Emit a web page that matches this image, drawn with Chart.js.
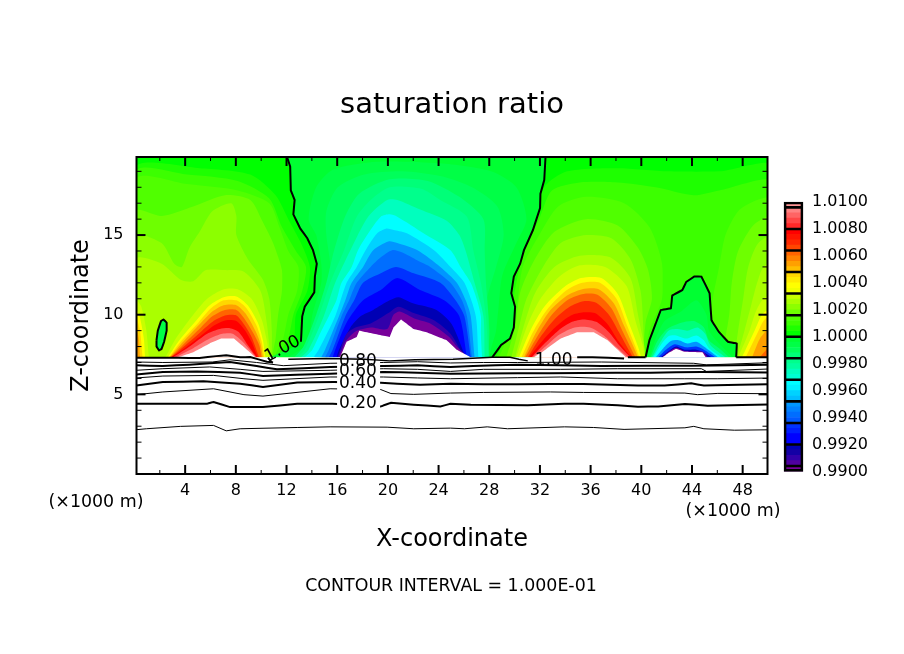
<!DOCTYPE html>
<html><head><meta charset="utf-8">
<style>html,body{margin:0;padding:0;background:#fff}#wrap{position:relative;width:904px;height:654px}canvas{position:absolute}</style>
<script src="https://cdn.jsdelivr.net/npm/chart.js@4"></script></head>
<body><div id="wrap"><canvas id="main" width="904" height="654" style="left:0;top:0"></canvas><canvas id="bar" width="134" height="310" style="left:770px;top:180px"></canvas></div>
<script>
// ---------- axis / colour bar values ----------
const xTicks=[4,8,12,16,20,24,28,32,36,40,44,48];
const xMinorTicks=[2,6,10,14,18,22,26,30,34,38,42,46];
const zTicks=[5,10,15];
const zMinorTicks=[1,2,3,4,6,7,8,9,11,12,13,14,16,17,18,19];
const barStart=0.99, barStep=0.0004;
const barColours=['#78009a','#5000a0','#3200aa','#1400a5','#0000b4','#0000ff','#0000ff','#001eff','#0032ff','#005aff','#006eff','#0082ff','#0096ff','#00beff','#00d2ff','#00f0ff','#00ffff','#00ffd2','#00ffbe','#00ffa0','#00ff8c','#00ff78','#00ff5a','#00ff46','#00ff32','#00ff00','#1eff00','#3cff00','#50ff00','#6eff00','#8cff00','#aaff00','#c8ff00','#f0ff00','#ffff00','#ffeb00','#ffd700','#ffbe00','#ffa000','#ff8200','#ff6400','#ff4600','#ff2800','#ff1400','#ff0000','#ff2828','#ff4646','#ff6464','#ff8282','#ff9696'];
const barSeparators=[1,5,9,13,17,21,25,29,33,37,41,45,49];
const xStart=0.16,xEnd=49.96,zEnd=19.9,xShift=0.14,baseZ=7.33;

// ---------- level curves: flat x,z lists ----------
const fullField=[0,20,50.5,20];
const broadL26=[0,19.3,5,19.2,9,18.8,11,17.5,12,16,13,14.5,13.7,13,13.5,11.5,12.6,10,12.4,8.3,11.2,7.33];
const broadL27=[0,19,4,18.8,8,18.4,10.5,17.3,11.5,15.5,12.6,14,13.4,13,13.1,11.5,12.4,10,12,8.5,11.2,7.33];
const broadL28=[0,18.5,4,18.2,8,17.8,10.5,17,11.3,15.5,12,14,12.8,13,12.7,11.5,12,10,11.6,8.5,11,7.33];
const broadL29=[0,16.5,2,16.2,4.5,16.8,7,17.5,9,17.2,10,15.8,10.8,14.5,11.5,12.8,11.5,11.5,11.2,10,11,8.5,10.8,7.33];
const broadL30=[0,14.9,2,14.5,3,13.2,3.6,13,4.2,14.2,5,15.2,6,16.5,7.5,17,7.9,16.2,7.9,15,8.8,13.5,10,12.2,10.5,11,10.7,9,10.7,7.33];
const broadL31=[0,13.5,2,13.2,3.5,12.2,4.5,12.1,5.5,12.8,7,12.8,8.5,12.7,9.8,11.5,10.3,9.5,10.6,7.33];
const broadR26=[28.2,7.33,29.3,8.5,29.6,11.3,30.4,13.8,31.3,15.5,32.2,18,34,19,38,19.2,42,19,46,19,50.5,19.3,50.5,7.33];
const broadR27=[28.4,7.33,29.3,9,30,12,30.6,14,31.8,16,32.8,17.8,35,18.3,38,18.3,41,18,44,17.5,46,17.8,50.5,18.3,50.5,7.33];
const cornerL32=[0,10.9,0.4,10.5,0.8,9,1,7.33];
const cornerL34=[0,10.3,0.3,9.8,0.6,8.5,0.7,7.33];
const cornerL36=[0,9.8,0.3,9,0.5,7.33];
const cornerL38=[0,9.2,0.2,8.5,0.3,7.33];
const lobeA32=[2.3,7.33,3.2,8.6,4.5,10,5.6,11,6.9,11.6,8,11.6,9.1,11,9.9,9.7,10.3,8.4,10.5,7.33];
const lobeA34=[2.5,7.33,3.4,8.4,4.8,9.7,5.8,10.6,6.9,11.1,7.9,11.15,8.8,10.6,9.6,9.5,10,8.4,10.2,7.33];
const lobeA36=[2.6,7.33,3.5,8.3,4.9,9.5,5.9,10.4,6.9,10.9,7.9,10.9,8.7,10.4,9.5,9.3,9.9,8.3,10.1,7.33];
const lobeA38=[2.65,7.33,3.7,8.3,5,9.4,6,10.2,6.9,10.6,7.9,10.6,8.6,10.1,9.4,9,9.8,8.2,10,7.33];
const lobeA40=[2.7,7.33,3.8,8.2,5.1,9.2,6,9.9,7,10.3,7.9,10.3,8.5,9.8,9.2,8.9,9.7,8.1,9.9,7.33];
const lobeA42=[2.75,7.33,3.9,8.1,5.2,9,6.1,9.6,7,9.95,7.9,9.95,8.5,9.4,9.1,8.6,9.7,7.33];
const lobeA44=[2.8,7.33,4,8,5.3,8.8,6.2,9.35,7.1,9.65,7.9,9.6,8.6,9,9.1,8.3,9.6,7.33];
const lobeA46=[2.9,7.33,4.3,8.05,5.6,8.8,6.6,9.1,7.4,9.15,8.1,8.9,8.8,8.1,9.5,7.33];
const lobeA48=[3.1,7.33,4.5,7.9,5.8,8.5,6.8,8.8,7.6,8.8,8.4,8.3,9.45,7.33];
const lobeB28=[28.6,7.33,29,8,30,10.5,30.5,13,31.8,15,33.3,16.8,35.5,17.4,38.5,17,40.5,15.5,41.5,13.2,41.5,11,40.5,9,40.2,7.33];
const lobeB29=[29.2,7.33,29.9,9.2,30.3,11.4,31.4,13.4,33,15.2,35.5,16,38,15.6,39.6,14.2,40.4,12.8,40.7,11,40.2,9.5,40.1,7.33];
const lobeB30=[29.6,7.33,30.2,9.2,30.8,11,32.1,13,33.5,14.5,35.5,15,37.5,14.8,39,13.5,39.8,11.5,40,9.5,40.1,7.33];
const lobeB31=[29.9,7.33,30.7,9.6,31.5,11.4,33,13,35,13.7,37.4,13.6,39,12.3,39.6,10,40.1,8,40.2,7.33];
const lobeB32=[30,7.33,30.9,9.4,31.9,11,33.4,12.4,35,13.1,37,13,38.7,11.8,39.4,9.6,40,8,40.1,7.33];
const lobeB34=[30.2,7.33,31.1,9,32.2,10.5,33.8,11.75,35.1,12.3,36.7,12.3,38,11.3,38.9,9.45,39.6,8,39.85,7.33];
const lobeB36=[30.4,7.33,31.3,8.9,32.4,10.3,33.9,11.5,35.2,12,36.6,12,37.9,11,38.7,9.4,39.4,8,39.7,7.33];
const lobeB38=[30.6,7.33,31.5,8.8,32.6,10.2,34,11.2,35.2,11.6,36.5,11.6,37.7,10.7,38.5,9.3,39.3,7.9,39.6,7.33];
const lobeB40=[30.7,7.33,31.7,8.7,32.8,10,34.1,10.95,35.3,11.3,36.4,11.25,37.5,10.4,38.3,9.1,39.1,7.8,39.4,7.33];
const lobeB42=[30.9,7.33,31.9,8.6,33,9.7,34.2,10.5,35.3,10.85,36.3,10.75,37.3,10,38.1,8.9,38.9,7.75,39.2,7.33];
const lobeB44=[31,7.33,32.1,8.4,33.2,9.3,34.3,9.95,35.3,10.15,36.2,10.1,37.2,9.4,38,8.4,38.8,7.6,39.1,7.33];
const lobeB46=[31.2,7.33,32.3,8.25,33.3,9,34.4,9.55,35.3,9.7,36.3,9.55,37.3,8.9,38.1,8.1,39,7.33];
const lobeB48=[31.3,7.33,32.3,8,33.4,8.75,34.6,9.2,35.8,9.2,36.9,8.7,37.9,7.95,38.8,7.33];
const edgeR28=[45,7.33,45.5,11,46,13,46.5,15,47.5,16.5,49,17.2,50.5,17.3,50.5,7.33];
const edgeR29=[46.2,7.33,46.8,10,47,12,47.5,14,48.8,15.7,50.5,16.2,50.5,7.33];
const edgeR30=[47.2,7.33,47.5,9,47.9,11,48.3,13,49.1,14.5,50.5,15,50.5,7.33];
const edgeR31=[47.4,7.33,48,9,48.5,10.5,49,12,49.5,13,50.5,13.4,50.5,7.33];
const edgeR32=[47.5,7.33,48.4,9,48.9,10.2,49.5,11,50.5,11.3,50.5,7.33];
const edgeR34=[47.8,7.33,48.8,9,49.5,10.1,50.5,10.4,50.5,7.33];
const edgeR36=[48.1,7.33,49,8.8,49.6,9.7,50.5,10,50.5,7.33];
const edgeR38=[48.6,7.33,49.3,8.6,50.5,9.5,50.5,7.33];
const edgeR40=[49.2,7.33,50.5,8.4,50.5,7.33];
// 1.00 contour pieces
const contourLeft=[13,8.3,13.1,9.9,13.3,10.5,14.05,11.4,14.1,12.4,14.25,13.2,13.95,14.05,13.5,14.8,12.95,15.4,12.4,16.3,12.5,17.2,12.2,17.8,12.15,19.3,11.9,19.9];
const contourRight=[32.3,19.9,32.2,18.45,31.9,17.6,31.87,16.7,31.3,15.3,30.6,14.05,30.3,13.2,29.8,12.4,29.6,11.35,29.9,10.5,29.8,9.2,29.5,8.5,28.8,8.1,28.1,7.33];
const contourSmall=[40.2,7.33,40.5,8.4,41,9.45,41.4,10.3,42.2,10.4,42.3,11.2,43.1,11.55,43.4,12.05,44.05,12.4,44.6,12.4,45.25,11.35,45.4,9.65,46,8.9,46.7,8.3,47.4,8.2,47.35,7.33];
const contourOval=[1.6,8.4,1.7,9,1.95,9.6,2.15,9.7,2.4,9.5,2.4,9,2.2,8.3,2,7.85,1.8,7.75,1.6,8,1.6,8.4];
const coldFoot=[10.55,7.33,11.3,7.6];
const ovalTail=[2.44,8.4];
const cold23=[12,7.33,13.5,8.2,13.9,10,14.6,12,14.6,13.2,14.2,15,13.6,16,14.2,18,15.5,19.1,19,19.6,24,19.5,28,19,30,18,30.8,16,30,14.5,28.9,12.5,28.6,10.5,28.4,9,28,7.33];
const cold22=[12.6,7.33,14,8.4,14.6,10,15.2,11.8,15.3,13.2,15,15,15,16.5,15.9,18,18,18.8,21,19,24,18.7,26.5,18,28.5,16.8,29,15,28.4,13,27.7,11,27.9,9,27.9,7.33];
const cold21=[12.5,7.33,13.2,8,14.2,10,15,12,15.6,14,16.5,16.2,17.6,17.6,20,18.5,23,18.4,25.5,17.4,27.4,16,27.5,14,27.6,12,27.8,9.9,27.85,7.33];
const cold20=[12.7,7.33,13.3,7.8,14.4,9.9,15.3,12,16.4,14.05,17.4,16.15,18.5,17.2,20,18,22.5,17.9,24,17.2,26.1,16.15,26.6,14.05,27.2,12,27.6,9.9,27.8,7.33];
const cold18=[13,7.33,13.6,7.8,14.8,9.9,15.7,12,16.9,14.05,18.3,16.15,19.8,17.2,20.6,17.2,22.4,16.6,24.5,15.9,25.5,15,26,14,26.7,12,27.4,9.9,27.5,7.33];
const cold16=[13.3,7.33,13.9,7.8,14.5,8.8,15.2,9.9,15.8,10.9,16.2,12,17,13,17.5,14.05,18.3,15.1,19.3,16.15,20,16.3,20.6,16.15,22.7,15.1,24.8,14.05,25.6,13,26.4,12,26.9,10.9,27.2,9.9,27.2,8.8,27.3,7.33];
const cold14=[14,7.33,14.4,7.8,15.7,9.9,16.6,12,17.4,13,18.1,14.05,19,15.1,19.7,15.4,20.4,15.3,21.4,15.1,23.5,14.05,24.8,13,25.9,12,26.8,9.9,27,7.33];
const cold12=[14.6,7.33,14.9,7.8,16,9.9,16.5,10.9,17,12,17.9,13,18.7,14.05,19.9,14.6,20.6,14.5,22.2,14.05,24,13,25.3,12,26,10.9,26.4,9.9,26.7,7.33];
const cold10=[14.9,7.33,15.2,7.8,16.2,9.9,16.8,10.9,17.4,12,18.5,13,19.3,13.6,20.2,14.05,21,13.9,22.2,13.4,23.2,13,24.8,12,25.7,10.9,26.1,9.9,26.5,7.33];
const cold8=[15.2,7.33,15.5,7.8,16.5,9.9,17.2,10.9,17.9,12,19.3,12.6,20.5,13,21.9,12.6,24,12,25.2,10.9,25.9,9.9,26.4,7.33];
const cold6=[15.5,7.33,15.7,7.8,16.6,9.5,17.9,10.9,19.3,11.55,20.6,12.3,22.4,11.55,24.3,10.9,25.5,9.9,26.1,7.33];
const cold4=[15.8,7.33,16,7.8,16.9,9.2,17.7,9.9,18.7,10.3,20,10.9,20.7,11.1,21.9,10.7,23.7,10.3,24.9,9.4,26,7.33];
const cold2=[15.9,7.33,16.1,7.8,16.6,8.8,17.3,9.2,18.5,9.45,19.9,10.1,20.7,10.5,21.9,10.1,23.5,9.65,24.8,8.8,25.9,7.33];
const cold0=[16,7.33,16.5,8.3,17.3,8.95,18.5,9.2,19.8,9.1,20.3,10,20.8,10.2,22,9.75,23.2,9.45,24.7,8.6,25.3,8,26.2,7.33];
const small23=[40.5,7.33,41,8.5,41.7,9.6,43,10.2,44.2,10.9,45,10,45.2,9,46,8.2,47.1,7.33];
const small21=[40.6,7.33,41.1,8.3,41.9,9.1,43,9.5,44,9.6,44.8,9.2,45.2,8.4,46,7.9,46.8,7.33];
const small18=[40.7,7.33,41.3,8.2,42,9,42.7,9.1,43.5,9,44.3,9.2,44.9,8.8,45.3,8.1,46.5,7.33];
const small16=[40.8,7.33,41.4,8.1,42,8.65,42.6,8.7,43.4,8.5,44.2,8.7,44.8,8.4,45.2,7.9,46.2,7.33];
const small12=[41,7.33,41.6,7.9,42.2,8.35,42.8,8.4,43.5,8.2,44.2,8.3,44.8,8,45.9,7.33];
const small8=[41.2,7.33,41.8,7.8,42.5,8.15,43.4,7.95,44.2,8,44.8,7.8,45.7,7.33];
const small4=[41.4,7.33,42,7.7,42.6,8,43.3,7.8,44.2,7.8,44.9,7.6,45.4,7.33];
const small0=[41.5,7.33,42,7.65,42.6,7.93,43.3,7.72,44.7,7.68,45.1,7.33];
const terrainA=[3.3,7.33,4.5,7.65,5.8,8.2,6.7,8.5,7.7,8.5,8.45,8,9.4,7.33];
const terrainB=[16.1,7.33,16.6,8.3,17.4,8.6,17.6,9,18.5,8.85,20,8.6,20.3,9.2,20.9,9.7,21.9,9.1,22.9,8.9,24.5,8.4,25.3,7.8,26.4,7.33];
const terrainC=[31.4,7.33,32.3,7.8,33.5,8.5,34.8,8.9,36.1,8.9,37.2,8.4,38,7.8,38.65,7.33];
const terrainD=[41.55,7.33,42,7.6,42.6,7.87,43.3,7.67,44.7,7.63,44.95,7.33];
const groundLine=[0,7.33,50.5,7.33];
// lower contour lines
const line010=[0,2.78,0.8,2.84,3.5,2.99,6.1,3.05,7.1,2.71,8.2,2.84,12.7,2.92,15.3,2.96,19.8,2.94,21.9,2.84,24.8,2.88,25.9,2.84,27.7,2.96,29.3,2.84,33.8,2.96,36.1,2.92,38.5,2.8,43.3,2.9,44,2.99,44.8,2.84,47.2,2.75,50.5,2.78];
const line020=[0,4.41,3.4,4.41,5.6,4.41,6.1,4.52,7.4,4.2,10,4.2,12.7,4.41,15.5,4.41,19.3,4.24,20.1,4.47,21.9,4.35,24,4.24,24.8,4.41,26.4,4.35,30.9,4.31,33.8,4.41,35.3,4.41,38,4.31,39.6,4.22,41.2,4.24,43.3,4.39,45.1,4.29,50.5,4.37];
const line030=[0,4.98,2.1,5.15,6.1,5.35,8.5,4.98,10,4.89,15.3,5.35,19.3,5.3,20.1,5.05,21.9,5,24.8,5.08,27.4,5.12,32.7,5.15,35.3,5.12,39.6,5.1,43.3,5.08,44.3,4.98,45.9,5.06,50.5,5.04];
const line040=[0,5.56,2.1,5.77,5.3,5.82,8.2,5.67,10,5.46,12.7,5.75,15.6,5.77,19.3,5.73,20.6,5.67,22.4,5.61,24.8,5.67,27.4,5.63,32.7,5.65,35.3,5.65,39.6,5.56,41.7,5.56,43.8,5.69,44.8,5.56,50.5,5.65];
const line050=[0,6.03,2.1,6.15,6.1,6.19,8.5,5.98,10,5.88,15.3,6.09,19.5,6.09,22.2,6.03,24.8,5.98,30.1,6.05,33.5,6.09,38,5.98,43.3,5.98,45.9,5.98,50.5,6.03];
const line060=[0,6.24,2.1,6.4,4.8,6.44,8.2,6.36,10,6.15,15.3,6.3,19.5,6.4,22.2,6.36,24.8,6.3,30.1,6.32,35.1,6.34,40.6,6.36,44.6,6.4,50.5,6.36];
const line070=[0,6.51,2.1,6.61,5.8,6.72,8.2,6.57,10,6.44,15.3,6.51,19.5,6.61,22.2,6.57,24.8,6.44,27.4,6.57,33.5,6.57,38,6.61,44.6,6.61,45,6.44,50.5,6.61];
const line080=[0,6.82,2.1,6.78,4.2,6.86,7.4,7.03,9.5,6.78,11.1,6.57,15.3,6.72,19.5,6.78,22.2,6.82,24.8,6.72,26.6,6.78,30.1,6.86,36.7,6.78,43.8,6.8,50.5,6.86];
const line090=[0,7.03,2.1,7,6,7.03,7.4,7.17,9.5,7,11.6,6.8,15.3,6.95,19.5,7,22.2,7.05,24.8,6.97,27.4,7,30.1,7,36.7,7.03,44,6.95,45,6.85,50.5,7];
const base100a=[0,7.3,3.3,7.3,5,7.28,6.3,7.4,7.1,7.46,8.2,7.33,9,7.34,10.3,7.05,10.8,7];
const base100b=[12,7.2,15,7.25,18,7.2,20,7.1,22,7.17,25,7.2,28.1,7.33,29.5,7.33,30.2,7.2,30.9,7.1];
const base100c=[34.8,7.33,36,7.33,38.5,7.25];
const base100d=[38.8,7.33,40.2,7.33];
const base100e=[47.35,7.33,50.5,7.33];
const base100f=[10.4,7.3,10.7,7];

// contour labels: text, x, z, rotation in degrees
const labelTexts=['0.20','0.40','0.60','0.80','1.00','1.00'];
const labelX=[17.5,17.5,17.5,17.5,11.55,32.95];
const labelZ=[4.4,5.7,6.4,7.03,7.84,7.15];
const labelAngle=[0,0,0,0,-28,0];

// ---------- build ----------
const toPoints=f=>{const p=[];for(let i=0;i<f.length;i+=2)p.push({x:f[i]+xShift,y:f[i+1]});return p;};
// the filler clips to the first/last x and stops a line once it touches the last x,
// so each area is opened and closed along the ground just outside its widest extents
const toArea=f=>{const p=toPoints(f),xs=p.map(q=>q.x);return [{x:Math.min(...xs)-0.05,y:baseZ},...p,{x:Math.max(...xs)+0.05,y:baseZ}];};
const fillLayers=[
 [25,fullField],[26,broadL26],[26,broadR26],[27,broadL27],[27,broadR27],[28,broadL28],[28,lobeB28],[28,edgeR28],
 [29,broadL29],[29,lobeB29],[29,edgeR29],[30,broadL30],[30,lobeB30],[30,edgeR30],[31,broadL31],[31,lobeB31],[31,edgeR31],
 [32,cornerL32],[34,cornerL34],[36,cornerL36],[38,cornerL38],
 [32,lobeA32],[34,lobeA34],[36,lobeA36],[38,lobeA38],[40,lobeA40],[42,lobeA42],[44,lobeA44],[46,lobeA46],[48,lobeA48],
 [32,lobeB32],[34,lobeB34],[36,lobeB36],[38,lobeB38],[40,lobeB40],[42,lobeB42],[44,lobeB44],[46,lobeB46],[48,lobeB48],
 [32,edgeR32],[34,edgeR34],[36,edgeR36],[38,edgeR38],[40,edgeR40],
 [24,coldFoot.concat(contourLeft,contourRight)],
 [23,cold23],[22,cold22],[21,cold21],[20,cold20],[18,cold18],[16,cold16],[14,cold14],[12,cold12],[10,cold10],[8,cold8],[6,cold6],[4,cold4],[2,cold2],[0,cold0],
 [24,contourSmall],[23,small23],[21,small21],[18,small18],[16,small16],[12,small12],[8,small8],[4,small4],[0,small0]
];
const whiteLayers=[terrainA,terrainB,terrainC,terrainD];
const thinLines=[line010,line030,line050,line070,line090];
const thickLines=[line020,line040,line060,line080,base100a,base100c,base100d,base100e,contourLeft,contourRight,contourSmall,contourOval,base100f];
const ds=[];
const noMark={pointRadius:0,pointHoverRadius:0,showLine:true};
fillLayers.forEach(([b,c])=>ds.push({...noMark,data:toArea(c),borderWidth:0,borderColor:'rgba(0,0,0,0)',backgroundColor:barColours[b],fill:{value:baseZ},tension:.25}));
ds.push({...noMark,data:toPoints(contourOval.concat(ovalTail)),borderWidth:0,borderColor:'rgba(0,0,0,0)',backgroundColor:barColours[23],fill:{value:8.4},tension:0.01});
whiteLayers.forEach(c=>ds.push({...noMark,data:toArea(c),borderWidth:0,borderColor:'rgba(0,0,0,0)',backgroundColor:'#fff',fill:{value:baseZ},tension:0.01}));
ds.push({...noMark,data:toPoints(groundLine),borderWidth:0,borderColor:'rgba(0,0,0,0)',backgroundColor:'#fff',fill:{value:0},tension:0});
thinLines.forEach(c=>ds.push({...noMark,data:toPoints(c),borderWidth:1,borderColor:'#000',backgroundColor:'#000',fill:false,tension:0}));
ds.push({...noMark,data:toPoints(base100b),borderWidth:1.4,borderColor:'#000',fill:false,tension:0});
thickLines.forEach(c=>ds.push({...noMark,data:toPoints(c),borderWidth:2,borderColor:'#000',fill:false,tension:0.01}));
ds.forEach((d,i)=>d.order=ds.length-i);

const font='"DejaVu Sans"';
const decor={id:'decor',
 afterDatasetsDraw(c){
  const {ctx,scales:{x,y}}=c;
  ctx.save();
  ctx.fillStyle='#fff';
  ctx.fillRect(x.getPixelForValue(15.85+xShift),y.getPixelForValue(7.1),43,y.getPixelForValue(4)-y.getPixelForValue(7.1));
  ctx.fillStyle='#000';ctx.font='17px '+font;ctx.textAlign='center';ctx.textBaseline='middle';
  labelTexts.forEach((t,i)=>{ctx.save();ctx.translate(x.getPixelForValue(labelX[i]+xShift),y.getPixelForValue(labelZ[i]));ctx.rotate(labelAngle[i]*Math.PI/180);ctx.fillText(t,0,0);ctx.restore();});
  ctx.restore();
 },
 afterDraw(c){
  const {ctx,chartArea:a,scales:{x,y}}=c;
  ctx.save();ctx.strokeStyle='#000';
  const seg=(x1,y1,x2,y2,w)=>{ctx.lineWidth=w;ctx.beginPath();ctx.moveTo(x1,y1);ctx.lineTo(x2,y2);ctx.stroke();};
  xTicks.forEach(v=>{const p=x.getPixelForValue(v);seg(p,a.bottom,p,a.bottom-9,2);seg(p,a.top,p,a.top+9,2);});
  xMinorTicks.forEach(v=>{const p=x.getPixelForValue(v);seg(p,a.bottom,p,a.bottom-4,1);seg(p,a.top,p,a.top+4,1);});
  zTicks.forEach(v=>{const p=y.getPixelForValue(v);seg(a.left,p,a.left+9,p,2);seg(a.right,p,a.right-9,p,2);});
  zMinorTicks.forEach(v=>{const p=y.getPixelForValue(v);seg(a.left,p,a.left+5,p,1);seg(a.right,p,a.right-5,p,1);});
  ctx.lineWidth=2;ctx.strokeRect(a.left,a.top,a.right-a.left,a.bottom-a.top);
  ctx.fillStyle='#000';ctx.textAlign='center';ctx.textBaseline='middle';
  ctx.font='17.4px '+font;ctx.fillText('(×1000 m)',96,502);ctx.fillText('(×1000 m)',733,511);
  ctx.fillText('CONTOUR INTERVAL = 1.000E-01',451,586);
  ctx.restore();
 }};

new Chart(document.getElementById('main'),{type:'scatter',data:{datasets:ds},plugins:[decor],options:{
 responsive:false,animation:false,events:[],
 layout:{padding:0},
 plugins:{legend:{display:false},tooltip:{enabled:false},
  title:{display:true,text:'saturation ratio',color:'#000',font:{family:font,size:29,weight:'normal',lineHeight:1.2},padding:{top:87.6,bottom:34.6}}},
 scales:{
  x:{type:'linear',min:xStart,max:xEnd,afterBuildTicks:s=>{s.ticks=xTicks.map(v=>({value:v}));},afterFit:s=>{s.height=180;},
   grid:{display:false,drawTicks:false},border:{display:false},
   ticks:{color:'#000',font:{family:font,size:16},padding:7,maxRotation:0,autoSkip:false},
   title:{display:true,text:'X-coordinate',color:'#000',font:{family:font,size:24,lineHeight:1.2},padding:{top:0,bottom:99.6}}},
  y:{type:'linear',min:0,max:zEnd,afterBuildTicks:s=>{s.ticks=zTicks.map(v=>({value:v}));},afterFit:s=>{s.width=136.5;},
   grid:{display:false,drawTicks:false},border:{display:false},
   ticks:{color:'#000',font:{family:font,size:16},padding:13,autoSkip:false},
   title:{display:true,text:'Z-coordinate',color:'#000',font:{family:font,size:24,lineHeight:1.2},padding:{top:67.6,bottom:0}}},
  rightMargin:{type:'linear',position:'right',min:0,max:1,afterFit:s=>{s.width=136.5;},grid:{display:false,drawTicks:false},border:{display:false},ticks:{display:false}}
 }}});

// ---------- colour bar ----------
const barSets=barColours.map((col,i)=>({data:[[barStart+i*barStep,barStart+(i+1)*barStep]],backgroundColor:col,borderWidth:0,grouped:false,barPercentage:1,categoryPercentage:1,order:100}));
barSeparators.forEach(i=>{const v=barStart+i*barStep;barSets.push({data:[[v-0.00007,v+0.00007]],backgroundColor:'#000',borderWidth:0,grouped:false,barPercentage:1,categoryPercentage:1,order:50});});
barSets.push({data:[[barStart,barStart+50*barStep]],backgroundColor:'rgba(0,0,0,0)',borderColor:'#000',borderWidth:2,borderSkipped:false,grouped:false,barPercentage:1,categoryPercentage:1,order:1,clip:false});
new Chart(document.getElementById('bar'),{type:'bar',data:{labels:['ratio'],datasets:barSets},options:{
 responsive:false,animation:false,events:[],
 layout:{padding:{left:14,right:0,top:22,bottom:17.5}},
 plugins:{legend:{display:false},tooltip:{enabled:false}},
 scales:{x:{display:false},
  y:{position:'right',min:0.99,max:1.01,afterBuildTicks:s=>{const t=[];for(let i=0;i<11;i++)t.push({value:+(0.99+0.002*i).toFixed(4)});s.ticks=t;},afterFit:s=>{s.width=101;},
   grid:{display:false,drawTicks:false},border:{display:false},
   ticks:{color:'#000',font:{family:font,size:16},padding:9,autoSkip:false,callback:v=>v.toFixed(4)}}}
}});
</script></body></html>
